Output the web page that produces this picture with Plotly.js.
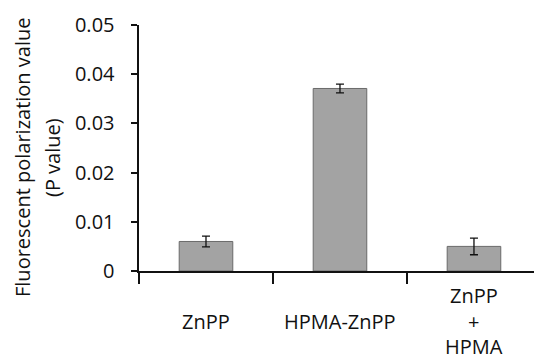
<!DOCTYPE html>
<html><head><meta charset="utf-8">
<script src="https://cdn.plot.ly/plotly-3.0.1.min.js"></script>
<style>html,body{margin:0;padding:0;background:#fff}#chart{width:534px;height:362px}</style>
</head><body><div id="chart"></div>
<script>
var categories = ['ZnPP', 'HPMA-ZnPP', 'ZnPP<br>+<br>HPMA'];
var pValues = [0.0060, 0.0371, 0.0050];
var pErrors = [0.0011, 0.0009, 0.0017];
var yTickVals = [0, 0.01, 0.02, 0.03, 0.04, 0.05];
var yTickText = ['0', '0.01', '0.02', '0.03', '0.04', '0.05'];
var yTitleLines = ['Fluorescent polarization value', '(P value)'];

var FONT = 'Open Sans, sans-serif';
var FS = 20;
var idx = categories.map(function(c, i){ return i; });

var trace = {
  type: 'bar',
  x: idx,
  y: pValues,
  width: 0.4,
  marker: {color: '#a3a3a3', line: {color: '#6a6a6a', width: 1}},
  error_y: {type: 'data', array: pErrors, visible: true, color: '#111', thickness: 1.3, width: 4}
};

var annotations = [];
categories.forEach(function(c, i){
  var lines = c.split('<br>');
  var n = lines.length;
  lines.forEach(function(line, j){
    annotations.push({
      x: i, xref: 'x', yref: 'paper',
      y: 0, yshift: -50 - (j - (n - 1) / 2) * 25.5,
      text: line, showarrow: false, xanchor: 'center', yanchor: 'middle',
      font: {family: FONT, size: FS, color: '#111'}
    });
  });
});
var titleX = [22, 52];
yTitleLines.forEach(function(line, j){
  annotations.push({
    xref: 'paper', yref: 'paper', x: 0, y: 0.5,
    xshift: titleX[j] - 139, yshift: -10,
    text: line, textangle: -90, showarrow: false,
    xanchor: 'center', yanchor: 'middle',
    font: {family: FONT, size: FS, color: '#111'}
  });
});

var layout = {
  width: 534, height: 362,
  margin: {l: 139, r: 0, t: 25, b: 91},
  paper_bgcolor: '#fff', plot_bgcolor: '#fff',
  showlegend: false,
  font: {family: FONT, color: '#111'},
  xaxis: {
    range: [-0.5, 2.448],
    tickmode: 'array', tickvals: [-0.5, 0.5, 1.5],
    showticklabels: false,
    ticks: 'outside', ticklen: 11, tickwidth: 2, tickcolor: '#111',
    showline: true, linecolor: '#111', linewidth: 2,
    showgrid: false, zeroline: false, fixedrange: true
  },
  yaxis: {
    range: [0, 0.05],
    tickmode: 'array', tickvals: yTickVals, ticktext: yTickText,
    ticks: 'outside', ticklen: 6, tickwidth: 2, tickcolor: '#111',
    ticklabelstandoff: 12,
    tickfont: {family: FONT, size: FS, color: '#111'},
    showline: true, linecolor: '#111', linewidth: 2.5,
    showgrid: false, zeroline: false
  },
  annotations: annotations
};

Plotly.newPlot('chart', [trace], layout, {staticPlot: true, displayModeBar: false});
</script>
</body></html>
